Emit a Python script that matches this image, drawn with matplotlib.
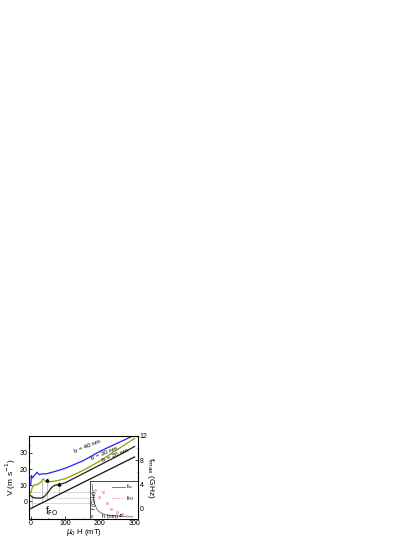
import matplotlib
matplotlib.use("Agg")
import matplotlib.pyplot as plt
import numpy as np

plt.rcParams['font.family'] = ['Liberation Sans', 'DejaVu Sans']

# Data
H40 = [0, 2, 5, 10, 18, 25, 32, 45, 70, 100, 150, 200, 250, 300]
V40 = [10, 16, 14.5, 16, 18, 16.5, 17, 17, 18.5, 20.5, 25, 31, 36, 41]
H30 = [0, 5, 10, 20, 30, 36, 42, 50, 70, 100, 150, 200, 250, 300]
V30 = [5, 9, 10, 10.5, 12, 14, 12.5, 12, 12.5, 14, 19, 25, 32, 39]
H20 = [0, 5, 15, 30, 40, 50, 60, 70, 85, 100, 150, 200, 250, 300]
V20 = [3.5, 2.5, 2, 2, 3, 5.5, 8.5, 10, 10.5, 11.5, 17, 22.5, 28, 34]
H_line = [0, 300]
V_line = [-4.5, 27.5]
v_marks_H = [3, 32, 48, 82]
v_marks_top = [4, 12.5, 13, 10.5]
h_marks_V = [6, 2, -1]

# inset data
h_sc = [2, 3, 4, 5, 7, 10, 15, 20, 30, 40]
f_sc = [10, 7, 5, 3.8, 2.6, 1.8, 1.2, 1.0, 0.8, 0.6]
h_fo = [5, 8, 12, 16, 20, 25, 30, 35]
f_fo = [8.5, 6.5, 7.8, 4.5, 3.0, 2.0, 1.5, 1.0]

fig = plt.figure(figsize=(4.15, 5.37), dpi=100)
ax = fig.add_axes([29/415, 1-519/537, 109/415, 83/537])
fs = 5

for Hm, Vt in zip(v_marks_H, v_marks_top):
    ax.plot([Hm, Hm], [-4.2 + Hm*32/300, Vt], color='0.6', lw=0.4)
for Vh in h_marks_V:
    ax.plot([0, 180], [Vh, Vh], color='0.75', lw=0.4)

ax.plot(H40, V40, color='#2222ff', lw=0.9)
ax.plot(H30, V30, color='#999900', lw=0.9)
ax.plot(H20, V20, color='#222222', lw=0.9)
ax.plot(H_line, V_line, color='#111111', lw=0.9)
ax.plot([48, 82], [13.5, 11], linestyle='none', marker='^', ms=2, color='k')

ax.set_xlim(-5, 310)
ax.set_ylim(-11, 40.5)
ax.set_xticks([0, 100, 200, 300])
ax.set_xticks([50, 150, 250], minor=True)
ax.set_yticks([0, 10, 20, 30])
ax.set_yticks([-5, 5, 15, 25, 35], minor=True)
ax.tick_params(which='both', direction='in', labelsize=fs, length=2, width=0.5, pad=1.0)
ax.tick_params(which='minor', length=1)
for s in ax.spines.values():
    s.set_linewidth(0.6)
ax.set_xlabel(r'$\mu_0$ H (mT)', fontsize=5.5, labelpad=0)
ax.set_ylabel(r'V (m s$^{-1}$)', fontsize=6, labelpad=1)

ax.text(165, 34, 'b = 40 nm', fontsize=4.5, rotation=22, ha='center', va='center')
ax.text(212, 29.5, 'b = 30 nm', fontsize=4.5, rotation=22, ha='center', va='center')
ax.text(245, 28.3, 'b = 20 nm', fontsize=4.5, rotation=22, ha='center', va='center')
ax.text(42, -6, r'f$_{\rm FO}$', fontsize=7, ha='left', va='center')

ax2 = ax.twinx()
ax2.set_ylim(-1.8, 12)
ax2.set_yticks([0, 4, 8, 12])
ax2.set_yticks([2, 6, 10], minor=True)
ax2.tick_params(which='both', direction='in', labelsize=fs, length=2, width=0.5, pad=1.0)
ax2.tick_params(which='minor', length=1)
ax2.set_ylabel(r'f$_{\rm max}$ (GHz)', fontsize=6, rotation=270, labelpad=6)

# inset
ins = fig.add_axes([90/415, 1-519/537, 48/415, 38/537])
ins.plot(h_sc, f_sc, color='0.4', lw=0.6)
ins.plot(h_fo, f_fo, linestyle='none', marker='s', ms=1, color='#ffaaaa')
ins.set_xlim(0, 45)
ins.set_ylim(0, 11)
ins.set_xticks([])
ins.set_yticks([])
for s in ins.spines.values():
    s.set_linewidth(0.5)
ins.plot([0.45, 0.72], [0.85, 0.85], transform=ins.transAxes, color='0.4', lw=0.6)
ins.plot([0.45, 0.72], [0.55, 0.55], transform=ins.transAxes, color='#ffaaaa', lw=0.6, ls='--')
ins.text(0.76, 0.85, r'f$_{\rm sc}$', transform=ins.transAxes, fontsize=4, va='center')
ins.text(0.76, 0.55, r'f$_{\rm FO}$', transform=ins.transAxes, fontsize=4, va='center')
ins.text(0.05, 0.5, 'f (GHz)', transform=ins.transAxes, fontsize=4, rotation=90, va='center')
ins.text(0.25, 0.07, 'h (nm)', transform=ins.transAxes, fontsize=4, va='center')
ins.text(0.02, 0.05, '0', transform=ins.transAxes, fontsize=3, va='center')
ins.text(0.6, 0.07, '40', transform=ins.transAxes, fontsize=3, va='center')

fig.savefig('out.png', dpi=100)
